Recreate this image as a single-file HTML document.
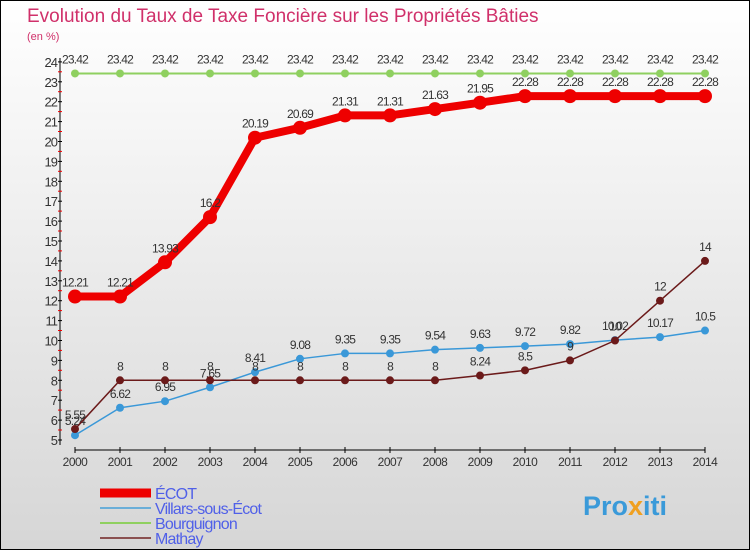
<!DOCTYPE html>
<html><head><meta charset="utf-8"><style>
body{margin:0;width:750px;height:550px;overflow:hidden;font-family:"Liberation Sans",sans-serif}
#bg{position:absolute;left:0;top:0;width:748px;height:548px;border:1px solid #000;background:linear-gradient(#fff,#d6d6d6)}
</style></head><body>
<div id="bg"></div>
<svg id="c" width="750" height="550" style="position:absolute;left:0;top:0">
<text x="27" y="22" font-size="19" fill="#d0306a">Evolution du Taux de Taxe Foncière sur les Propriétés Bâties</text>
<text x="27" y="40" font-size="11" fill="#d0306a">(en %)</text>
<g id="axes"></g><g id="series"></g><g id="legend"></g>
<text x="583" y="515" font-size="27" font-weight="bold" fill="#3a9ad9">Pro<tspan fill="#f0a020">x</tspan>iti</text>
</svg>
<script>
const years=[2000,2001,2002,2003,2004,2005,2006,2007,2008,2009,2010,2011,2012,2013,2014];
const yTicks=[5,6,7,8,9,10,11,12,13,14,15,16,17,18,19,20,21,22,23,24];
const ecot=[12.21,12.21,13.93,16.2,20.19,20.69,21.31,21.31,21.63,21.95,22.28,22.28,22.28,22.28,22.28];
const villars=[5.24,6.62,6.95,7.65,8.41,9.08,9.35,9.35,9.54,9.63,9.72,9.82,10.02,10.17,10.5];
const bourg=[23.42,23.42,23.42,23.42,23.42,23.42,23.42,23.42,23.42,23.42,23.42,23.42,23.42,23.42,23.42];
const mathay=[5.55,8,8,8,8,8,8,8,8,8.24,8.5,9,10,12,14];
const names=["ÉCOT","Villars-sous-Écot","Bourguignon","Mathay"];
const NS="http://www.w3.org/2000/svg";
const X=i=>75+i*45, Y=v=>440-(v-5)*19.9;
function mk(t,a,p){const e=document.createElementNS(NS,t);for(const k in a)e.setAttribute(k,a[k]);p.appendChild(e);return e;}
const ax=document.getElementById('axes');
const yl=mk('line',{x1:60,y1:58,x2:60,y2:445,stroke:'#000'},ax);


const xl=mk('line',{x1:75,y1:450,x2:705,y2:450,stroke:'#000'},ax);


yTicks.forEach(v=>{const y=Y(v);mk('line',{x1:58,x2:62,y1:y,y2:y,stroke:'#000'},ax);
 if(v<24)mk('line',{x1:58,x2:62,y1:y-10,y2:y-10,stroke:'#e00'},ax);
 const t=mk('text',{x:57,y:y+5,'font-size':13,fill:'#333','text-anchor':'end','letter-spacing':'-1'},ax);t.textContent=v;
 
 });
years.forEach((yr,i)=>{mk('line',{x1:X(i),x2:X(i),y1:447,y2:453,stroke:'#000'},ax);
 const t=mk('text',{x:X(i),y:466,'font-size':12,fill:'#333','text-anchor':'middle','letter-spacing':'-0.5'},ax);t.textContent=yr;
 
 });
const S=document.getElementById('series');
function series(d,col,w,r,name){const g=mk('g',{},S);
 
 
 mk('polyline',{points:d.map((v,i)=>X(i)+','+Y(v)).join(' '),fill:'none',stroke:col,'stroke-width':w,'stroke-linejoin':'round'},g);
 d.forEach((v,i)=>{mk('circle',{cx:X(i),cy:Y(v),r:r,fill:col},g);
  const t=mk('text',{x:X(i),y:Y(v)-10,'font-size':12,fill:'#333','text-anchor':'middle','letter-spacing':'-0.8'},g);t.textContent=v;});}
series(bourg,'#8fd060',2,4,'series-bourguignon');
series(villars,'#3a98d8',1.5,4,'series-villars');
series(mathay,'#6b1a1a',1.5,4,'series-mathay');
series(ecot,'#ee0000',8,7,'series-ecot');
const L=document.getElementById('legend');
const cols=['#ee0000','#6aaed8','#8fd060','#8a5050'],ws=[9,2,2,2];
names.forEach((n,i)=>{const y=493+i*15;const g=mk('g',{},L);
 
 
 mk('line',{x1:100,x2:151,y1:y,y2:y,stroke:cols[i],'stroke-width':ws[i]},g);
 const t=mk('text',{x:155,y:y+6,'font-size':16,fill:'#5060e8','letter-spacing':'-0.8'},g);t.textContent=n;});
</script>
</body></html>
